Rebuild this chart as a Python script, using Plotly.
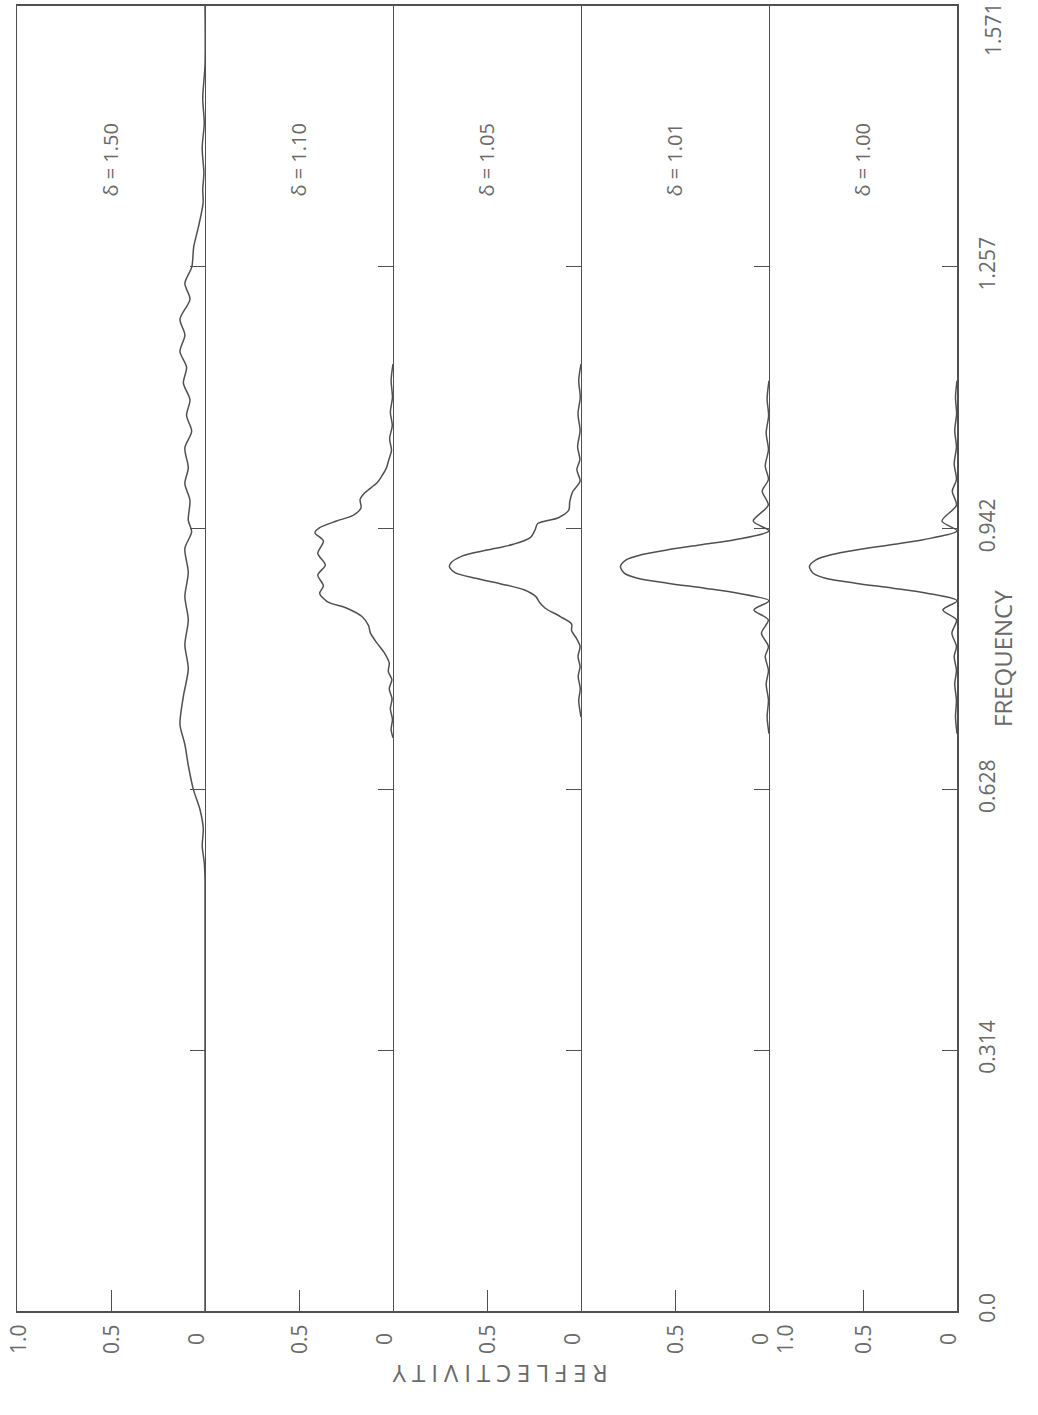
import plotly.graph_objects as go

# Frequency axis ticks (shared by all panels); the top value is set as a
# separate label so that it stays inside the page
freq_ticks = [0.0, 0.314, 0.628, 0.942, 1.257, 1.571]
freq_tick_text = ["0.0", "0.314", "0.628", "0.942", "1.257", "1.571"]

delta_labels = ["δ = 1.50", "δ = 1.10", "δ = 1.05", "δ = 1.01", "δ = 1.00"]

# Reflectivity spectra, one per delta value
freq_d150 = [1.571, 1.500, 1.460, 1.430, 1.400, 1.370, 1.350, 1.334, 1.305, 1.281, 1.257,
             1.237, 1.218, 1.194, 1.175, 1.155, 1.136, 1.117, 1.097, 1.078, 1.059,
             1.039, 1.015, 0.996, 0.976, 0.952, 0.938, 0.918, 0.889, 0.860, 0.832,
             0.802, 0.773, 0.740, 0.706, 0.682, 0.657, 0.628, 0.604, 0.580, 0.560,
             0.540, 0.520, 0.0]
refl_d150 = [0.000, 0.000, 0.012, 0.004, 0.015, 0.006, 0.012, 0.010, 0.035, 0.060, 0.070,
             0.107, 0.080, 0.133, 0.107, 0.133, 0.098, 0.115, 0.080, 0.098, 0.071,
             0.107, 0.089, 0.107, 0.080, 0.089, 0.071, 0.107, 0.089, 0.107, 0.089,
             0.107, 0.089, 0.115, 0.133, 0.107, 0.089, 0.062, 0.027, 0.009, 0.015,
             0.004, 0.000, 0.000]

freq_d110 = [1.140, 1.120, 1.100, 1.082, 1.066, 1.050, 1.036, 1.025, 1.015, 1.005, 0.997,
             0.985, 0.977, 0.967, 0.958, 0.951, 0.943, 0.937, 0.927, 0.912, 0.898,
             0.886, 0.873, 0.864, 0.854, 0.846, 0.836, 0.825, 0.816, 0.804, 0.792,
             0.780, 0.770, 0.760, 0.749, 0.737, 0.725, 0.712, 0.700, 0.690]
refl_d110 = [0.000, 0.010, 0.003, 0.014, 0.004, 0.018, 0.008, 0.022, 0.035, 0.060, 0.085,
             0.150, 0.175, 0.170, 0.210, 0.300, 0.390, 0.415, 0.370, 0.400, 0.360,
             0.400, 0.370, 0.390, 0.350, 0.245, 0.165, 0.130, 0.120, 0.085, 0.045,
             0.020, 0.025, 0.006, 0.020, 0.005, 0.014, 0.003, 0.010, 0.000]

freq_d105 = [1.140, 1.120, 1.100, 1.080, 1.060, 1.040, 1.025, 1.013, 0.999, 0.986, 0.974,
             0.964, 0.955, 0.948, 0.940, 0.931, 0.923, 0.916, 0.909, 0.901, 0.896,
             0.889, 0.882, 0.875, 0.868, 0.860, 0.853, 0.846, 0.836, 0.827, 0.819,
             0.810, 0.800, 0.788, 0.776, 0.764, 0.749, 0.735, 0.715]
refl_d105 = [0.000, 0.012, 0.004, 0.016, 0.005, 0.018, 0.006, 0.022, 0.005, 0.045, 0.060,
             0.065, 0.120, 0.230, 0.245, 0.270, 0.360, 0.500, 0.630, 0.690, 0.700,
             0.670, 0.560, 0.420, 0.300, 0.240, 0.220, 0.190, 0.110, 0.050, 0.050,
             0.025, 0.005, 0.016, 0.005, 0.015, 0.004, 0.012, 0.000]

freq_d101 = [1.120, 1.098, 1.078, 1.057, 1.037, 1.017, 1.001, 0.987, 0.970, 0.951, 0.939,
             0.9285, 0.9225, 0.9164, 0.9104, 0.9043, 0.8963, 0.8882, 0.8822, 0.8762,
             0.8701, 0.8641, 0.855, 0.844, 0.832, 0.816, 0.800, 0.788, 0.771, 0.755,
             0.735, 0.715, 0.695]
refl_d101 = [0.000, 0.010, 0.002, 0.015, 0.003, 0.020, 0.003, 0.036, 0.004, 0.084, 0.000,
             0.182, 0.360, 0.538, 0.680, 0.760, 0.790, 0.770, 0.700, 0.540,
             0.342, 0.164, 0.000, 0.080, 0.004, 0.040, 0.003, 0.020, 0.003, 0.015,
             0.003, 0.010, 0.000]

freq_d100 = [1.120, 1.100, 1.080, 1.060, 1.040, 1.020, 1.001, 0.987, 0.970, 0.951, 0.939,
             0.9285, 0.9225, 0.9164, 0.9104, 0.9043, 0.8963, 0.8882, 0.8822, 0.8762,
             0.8701, 0.8641, 0.855, 0.844, 0.832, 0.816, 0.800, 0.788, 0.771, 0.755,
             0.735, 0.715, 0.695]
refl_d100 = [0.000, 0.008, 0.002, 0.012, 0.003, 0.015, 0.003, 0.025, 0.003, 0.080, 0.000,
             0.180, 0.350, 0.530, 0.670, 0.750, 0.785, 0.765, 0.700, 0.540,
             0.340, 0.160, 0.000, 0.075, 0.003, 0.027, 0.003, 0.015, 0.003, 0.012,
             0.003, 0.008, 0.000]

panels = [
    (freq_d150, refl_d150),
    (freq_d110, refl_d110),
    (freq_d105, refl_d105),
    (freq_d101, refl_d101),
    (freq_d100, refl_d100),
]

LINE = "#505050"
TEXT = "#6a6a6a"
FONT = "Open Sans"
n = len(panels)

fig = go.Figure()
layout = dict(
    width=1038, height=1415,
    margin=dict(l=17, r=81, t=6, b=104, autoexpand=False),
    paper_bgcolor="white", plot_bgcolor="white",
    showlegend=False,
    font=dict(family=FONT, color=TEXT, size=21),
)
annotations = []

for k, (fr, rf) in enumerate(panels, start=1):
    sx = "" if k == 1 else str(k)
    fig.add_trace(go.Scatter(
        x=rf, y=fr, mode="lines",
        line=dict(color=LINE, width=1.5, shape="spline", smoothing=0.8),
        xaxis="x" + sx, yaxis="y" + sx, hoverinfo="skip",
    ))
    layout["xaxis" + sx] = dict(
        domain=[(k - 1) / n, k / n], anchor="y" + sx,
        range=[1.0, 0.0], tickvals=[0.5], ticks="inside", ticklen=21,
        tickwidth=1.3, tickcolor=LINE, showticklabels=False,
        showline=True, linecolor=LINE, linewidth=2, mirror=True,
        showgrid=False, zeroline=False, fixedrange=True, automargin=False,
    )
    # right-hand line of each panel doubles as the divider; only the first
    # panel also draws its left edge
    layout["yaxis" + sx] = dict(
        anchor="x" + sx, side="right", range=[0.0, 1.571],
        tickvals=freq_ticks[:-1], ticktext=freq_tick_text[:-1],
        ticks="inside", ticklen=15, tickwidth=1.3, tickcolor=LINE,
        showticklabels=(k == n), tickangle=-90, ticklabelstandoff=11,
        automargin=False,
        tickfont=dict(size=21, color=TEXT, family=FONT),
        showline=True, linecolor=LINE, linewidth=(2 if k == n else 1.4),
        mirror=(k == 1),
        showgrid=False, zeroline=False, fixedrange=True,
    )
    # Panel label
    annotations.append(dict(
        text=delta_labels[k - 1], xref="x" + sx, yref="y" + sx,
        x=0.5, y=1.385, showarrow=False, textangle=-90,
        font=dict(size=20, color=TEXT, family=FONT),
    ))
    # Reflectivity tick labels under each panel
    bottom = [("0.5", 0.5, 0), ("0", 0.0, -9)]
    if k == 1:
        bottom.append(("1.0", 1.0, 1))
    if k == n:
        bottom.append(("1.0", 1.0, 16))
    for txt, xv, xs in bottom:
        annotations.append(dict(
            text=txt, xref="x" + sx, yref="paper", x=xv, y=0,
            xshift=xs, yshift=-28, yanchor="middle", xanchor="center",
            showarrow=False, textangle=-90,
            font=dict(size=21, color=TEXT, family=FONT),
        ))

# Top frequency label, kept against the upper edge of the frame
annotations.append(dict(
    text=freq_tick_text[-1], xref="paper", yref="y" + str(n),
    x=1.0, y=freq_ticks[-1], xshift=20, yshift=6,
    xanchor="left", yanchor="top", showarrow=False, textangle=-90,
    font=dict(size=21, color=TEXT, family=FONT),
))
annotations.append(dict(
    text="FREQUENCY", xref="paper", yref="paper", x=1.0, y=0.5,
    xshift=64, showarrow=False, textangle=-90,
    font=dict(size=24, color=TEXT, family=FONT),
))
annotations.append(dict(
    text='<span style="letter-spacing:6px">REFLECTIVITY</span>',
    xref="paper", yref="paper", x=0.511, y=0, yshift=-82,
    showarrow=False, textangle=180,
    font=dict(size=24, color=TEXT, family=FONT),
))
layout["annotations"] = annotations
fig.update_layout(**layout)
fig.write_html("out.html")
